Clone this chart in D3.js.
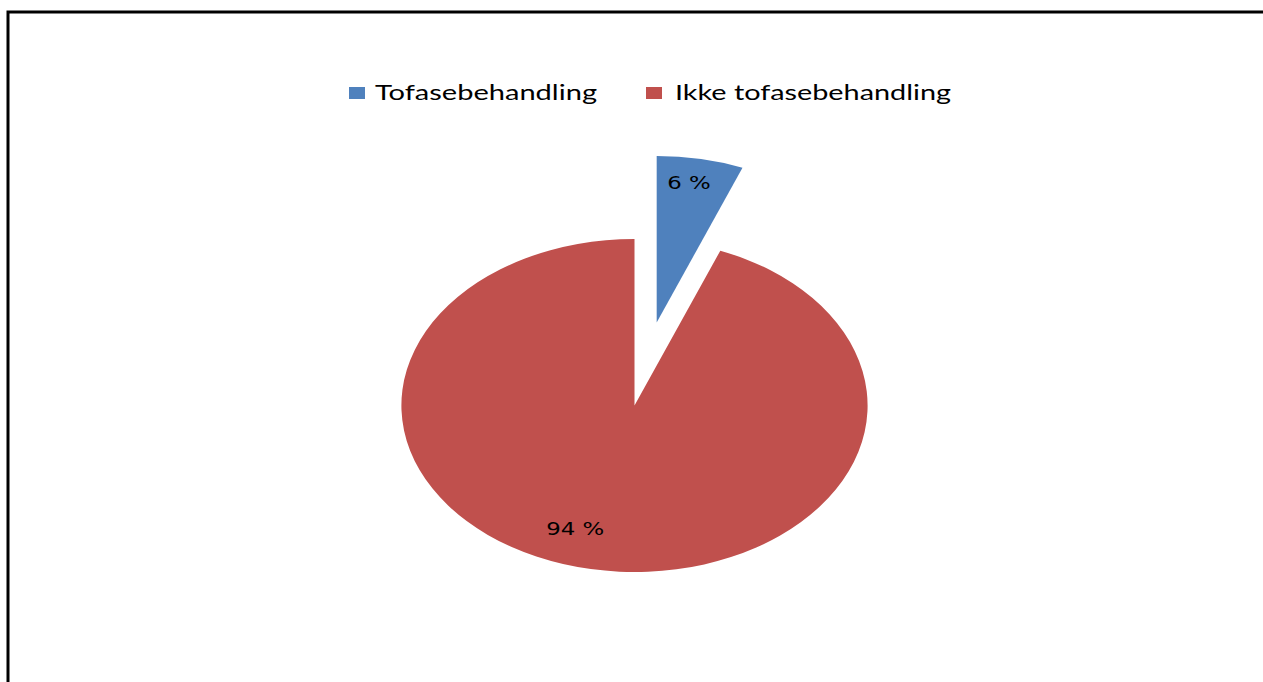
<!DOCTYPE html>
<html>
<head>
<meta charset="utf-8">
<script src="https://cdn.jsdelivr.net/npm/d3@7"></script>
<style>
  html, body { margin: 0; padding: 0; background: #fff; overflow: hidden; }
  svg { display: block; }
</style>
</head>
<body>
<svg id="chart" width="1263" height="682"></svg>
<script>
// Share of treatments, in percent
const categories = ["Tofasebehandling", "Ikke tofasebehandling"];
const shares = [6, 94];
const valueLabels = ["6 %", "94 %"];
const colors = ["#4F81BD", "#C0504D"];

// Layout
const W = 1263, H = 682;
const cx = 634.5, cy = 405.5;     // pie centre
const radius = 166.5;             // vertical radius
const stretchX = 1.4;             // horizontal stretch of the pie
const explode = [84.5, 0];        // pull-out distance per slice
const labelRadius = [0.85, 0.78]; // label distance as fraction of radius
const labelTurn = [-1.4, 8.2];    // label angle nudge, degrees
const labelStretch = 1.27;

const svg = d3.select("#chart");

// Frame: top and left edges (the rest runs past the page)
svg.append("path")
  .attr("d", `M8,${H + 10} V12 H${W + 10}`)
  .attr("fill", "none")
  .attr("stroke", "#000")
  .attr("stroke-width", 3);

// Legend
const legend = [
  { sx: 349, tx: 375, len: 222 },
  { sx: 646, tx: 675, len: 276 }
];
const lg = svg.append("g");
categories.forEach((c, i) => {
  lg.append("rect")
    .attr("x", legend[i].sx).attr("y", 87)
    .attr("width", 16).attr("height", 12)
    .attr("fill", colors[i]);
  lg.append("text")
    .attr("x", legend[i].tx).attr("y", 99.5)
    .attr("font-family", "Lato, 'Open Sans', sans-serif")
    .attr("font-size", 21)
    .attr("fill", "#000")
    .attr("textLength", legend[i].len)
    .attr("lengthAdjust", "spacingAndGlyphs")
    .text(c);
});

// Pie
const pie = d3.pie().sort(null).value(d => d);
const arcs = pie(shares);
const arc = d3.arc().innerRadius(0).outerRadius(radius);

const pg = svg.append("g")
  .attr("transform", `translate(${cx},${cy}) scale(${stretchX},1)`);

function offset(d, i) {
  const mid = (d.startAngle + d.endAngle) / 2;
  return [Math.sin(mid) * explode[i], -Math.cos(mid) * explode[i]];
}

pg.selectAll("path")
  .data(arcs)
  .join("path")
  .attr("transform", (d, i) => {
    const [ox, oy] = offset(d, i);
    return `translate(${ox},${oy})`;
  })
  .attr("d", arc)
  .attr("fill", (d, i) => colors[i]);

// Value labels
svg.selectAll("text.value")
  .data(arcs)
  .join("text")
  .attr("class", "value")
  .attr("transform", (d, i) => {
    const [ox, oy] = offset(d, i);
    const a = (d.startAngle + d.endAngle) / 2 + labelTurn[i] * Math.PI / 180;
    const r = labelRadius[i] * radius;
    const x = cx + stretchX * (Math.sin(a) * r + ox);
    const y = cy + (-Math.cos(a) * r + oy);
    return `translate(${x},${y + 6.5}) scale(${labelStretch},1)`;
  })
  .attr("text-anchor", "middle")
  .attr("font-family", "'DejaVu Sans', Verdana, sans-serif")
  .attr("font-size", 18)
  .attr("fill", "#000")
  .text((d, i) => valueLabels[i]);
</script>
</body>
</html>
